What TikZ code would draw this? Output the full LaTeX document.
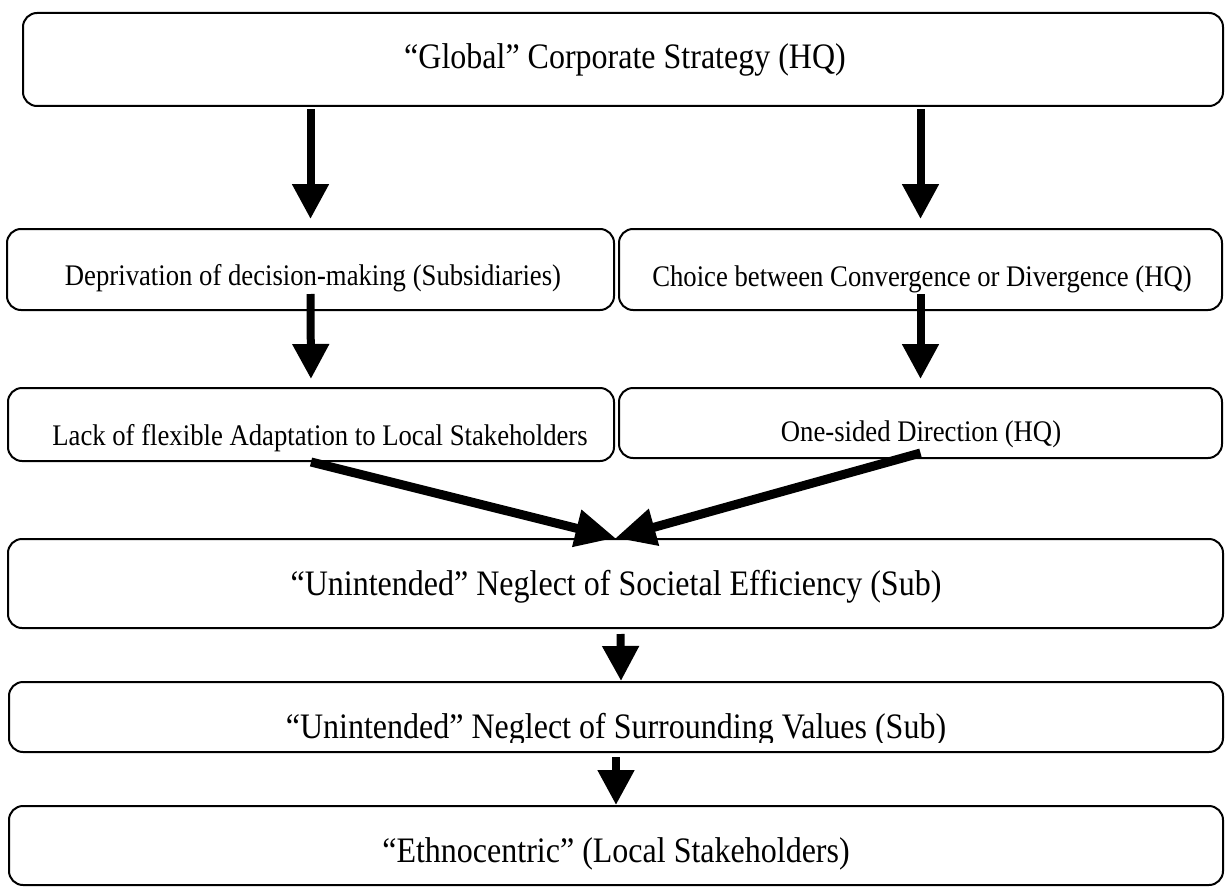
\documentclass[tikz,border=0pt]{standalone}
\usepackage{fontspec}
\setmainfont{Liberation Serif}
\usetikzlibrary{arrows.meta,calc,positioning}
\newcommand{\tall}[1]{\scalebox{1}[1.12]{#1}}
\tikzset{
  box/.style={draw,line width=2pt,rounded corners=14pt,inner sep=0pt},
  bigtxt/.style={font=\fontsize{32}{36}\selectfont,inner sep=0pt,anchor=base},
  smalltxt/.style={font=\fontsize{26.7}{30}\selectfont,inner sep=0pt,anchor=base},
  flow/.style={line width=8pt,-{Triangle[length=35pt,width=35pt]}},
  slant/.style={line width=9pt,-{Triangle[length=40pt,width=36pt]}}
}
\begin{document}
\begin{tikzpicture}[x=1pt,y=-1pt]
\useasboundingbox (0,0) rectangle (1225,888);
\node[box,minimum width=1200pt,minimum height=93pt] (hq) at (623,59.5) {};
\node[box,minimum width=607pt,minimum height=81pt] (dep) at (310.5,269.5) {};
\node[box,minimum width=603pt,minimum height=81pt] (choice) at (920.5,269.5) {};
\node[box,minimum width=606pt,minimum height=73pt] (lack) at (311,424.5) {};
\node[box,minimum width=603pt,minimum height=70pt] (one) at (920.5,423) {};
\node[box,minimum width=1215pt,minimum height=89pt] (soc) at (615.5,583.5) {};
\node[box,minimum width=1214pt,minimum height=70pt] (surr) at (616,717) {};
\node[box,minimum width=1214pt,minimum height=79pt] (eth) at (616,845.5) {};
\node[bigtxt] (hqt) at (625,69) {\tall{“Global” Corporate Strategy (HQ)}};
\node[smalltxt] (dept) at (313,285) {\tall{Deprivation of decision-making (Subsidiaries)}};
\node[smalltxt] (choicet) at (922,286) {\tall{Choice between Convergence or Divergence (HQ)}};
\node[smalltxt] (lackt) at (320,445) {\tall{Lack of flexible Adaptation to Local Stakeholders}};
\node[smalltxt] (onet) at (921,441) {\tall{One-sided Direction (HQ)}};
\node[bigtxt] (soct) at (616,595) {\tall{“Unintended” Neglect of Societal Efficiency (Sub)}};
\begin{scope}
\clip (0,683) rectangle (1225,742);
\node[bigtxt] (surrt) at (616,738) {\tall{“Unintended” Neglect of Surrounding Values (Sub)}};
\end{scope}
\node[bigtxt] (etht) at (616,862) {\tall{“Ethnocentric” (Local Stakeholders)}};
\draw[flow,shorten <=2pt,shorten >=9pt] (hq.south -| dep.north) -- (dep.north);
\draw[flow,shorten <=2pt,shorten >=9pt] (hq.south -| choice.north) -- (choice.north);
\draw[flow,shorten >=8pt] ($(dep.south)+(0,-17)$) -- (lack.north);
\draw[flow,shorten >=8pt] ($(choice.south)+(0,-17)$) -- (one.north);
\draw[slant] (lack.south) -- (soc.north);
\draw[slant] ($(one.south)+(0,-6)$) -- (soc.north);
\draw[flow,shorten <=5pt] ([xshift=5pt]soc.south) -- ([xshift=5pt]surr.north);
\draw[flow,shorten <=4pt] (surr.south) -- (eth.north);
\end{tikzpicture}
\end{document}
